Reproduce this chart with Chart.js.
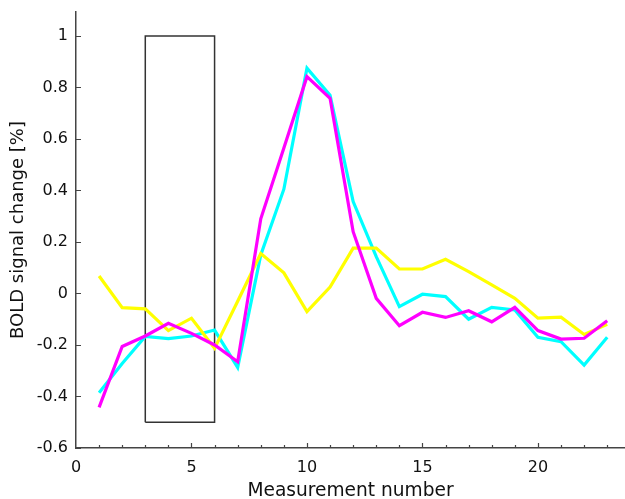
<!DOCTYPE html>
<html>
<head>
<meta charset="utf-8">
<script src="https://cdn.jsdelivr.net/npm/chart.js@4.4.1/dist/chart.umd.min.js"></script>
<style>
  html, body { margin: 0; padding: 0; background: #fff; overflow: hidden; }
  canvas { display: block; }
</style>
</head>
<body>
<canvas id="bold" width="625" height="499"></canvas>
<script>
    'use strict';

    // measurement index (x) and BOLD signal change [%] per curve
    const measurements = [1, 2, 3, 4, 5, 6, 7, 8, 9, 10, 11, 12, 13, 14, 15, 16, 17, 18, 19, 20, 21, 22, 23];
    const cyanSeries = [-0.385, -0.272, -0.167, -0.175, -0.165, -0.142, -0.287, 0.15, 0.405, 0.875, 0.77,
        0.357, 0.143, -0.051, -0.003, -0.012, -0.1, -0.054, -0.064, -0.17, -0.187, -0.278, -0.17];
    const magentaSeries = [-0.442, -0.206, -0.165, -0.116, -0.155, -0.2, -0.265, 0.29, 0.565, 0.842, 0.758,
        0.24, -0.019, -0.125, -0.073, -0.093, -0.067, -0.11, -0.054, -0.144, -0.177, -0.174, -0.106];
    const yellowSeries = [0.068, -0.055, -0.06, -0.144, -0.096, -0.213, -0.03, 0.155, 0.08, -0.07, 0.025,
        0.176, 0.176, 0.095, 0.095, 0.133, 0.085, 0.033, -0.019, -0.096, -0.092, -0.159, -0.12];

    // stimulus block outline (measurement 3..6, -0.5..1 %)
    const blockX = [3, 3, 6, 6, 3];
    const blockY = [-0.5, 1, 1, -0.5, -0.5];

    const yTicks = [-0.6, -0.4, -0.2, 0, 0.2, 0.4, 0.6, 0.8, 1];
    const xTicks = [0, 5, 10, 15, 20];

    const toPoints = ys => ys.map((v, i) => ({ x: measurements[i], y: v }));

    const insideTicks = {
        id: 'insideTicks',
        afterDraw(chart) {
            const { ctx, scales: { x, y } } = chart;
            ctx.save();
            ctx.strokeStyle = '#444';
            ctx.lineWidth = 1.2;
            ctx.beginPath();
            yTicks.forEach(v => {
                const py = Math.round(y.getPixelForValue(v)) + 0.5;
                ctx.moveTo(x.left, py);
                ctx.lineTo(x.left + 5, py);
            });
            for (let v = 1; v <= Math.floor(x.max); v++) {
                const px = Math.round(x.getPixelForValue(v)) + 0.5;
                const len = v % 5 === 0 ? 5 : 3;
                ctx.moveTo(px, y.bottom);
                ctx.lineTo(px, y.bottom - len);
            }
            ctx.stroke();
            ctx.restore();
        }
    };

    const line = (data, color, order) => ({
        data, borderColor: color, backgroundColor: color, borderWidth: 3.2,
        pointRadius: 0, tension: 0, fill: false, order
    });

    const noPad = s => { s.paddingTop = 0; s.paddingBottom = 0; s.paddingLeft = 0; s.paddingRight = 0; };

    new Chart(document.getElementById('bold'), {
        type: 'line',
        data: {
            datasets: [
                line(toPoints(magentaSeries), '#ff00ff', 1),
                line(toPoints(yellowSeries), '#ffff00', 2),
                line(toPoints(cyanSeries), '#00ffff', 3),
                {
                    data: blockX.map((v, i) => ({ x: v, y: blockY[i] })),
                    borderColor: '#333', borderWidth: 1.5, pointRadius: 0, tension: 0, fill: false, order: 4
                }
            ]
        },
        options: {
            responsive: false,
            animation: false,
            events: [],
            layout: { padding: { top: 12, right: 0, left: 0, bottom: 0 } },
            plugins: { legend: { display: false }, tooltip: { enabled: false } },
            scales: {
                x: {
                    type: 'linear',
                    min: 0,
                    max: 23.77,
                    afterFit: s => { s.height = 51; noPad(s); },
                    afterBuildTicks: s => { s.ticks = xTicks.map(v => ({ value: v })); },
                    grid: { display: false, drawTicks: false },
                    border: { display: true, color: '#444', width: 1.5 },
                    ticks: { color: '#111', padding: 10, maxRotation: 0, font: { family: 'DejaVu Sans', size: 16 } },
                    title: {
                        display: true, text: 'Measurement number', color: '#111',
                        padding: { top: 0, bottom: -3 }, font: { family: 'DejaVu Sans', size: 18.6 }
                    }
                },
                y: {
                    min: -0.6,
                    max: 1.093,
                    afterFit: s => { s.width = 76; noPad(s); },
                    afterBuildTicks: s => { s.ticks = yTicks.map(v => ({ value: v })); },
                    grid: { display: false, drawTicks: false },
                    border: { display: true, color: '#444', width: 1.5 },
                    ticks: {
                        color: '#111', padding: 8, font: { family: 'DejaVu Sans', size: 16 },
                        callback: v => String(Math.round(v * 10) / 10)
                    },
                    title: {
                        display: true, text: 'BOLD signal change [%]', color: '#111',
                        padding: { top: 8, bottom: 0 }, font: { family: 'DejaVu Sans', size: 18 }
                    }
                }
            }
        },
        plugins: [insideTicks]
    });
</script>
</body>
</html>
